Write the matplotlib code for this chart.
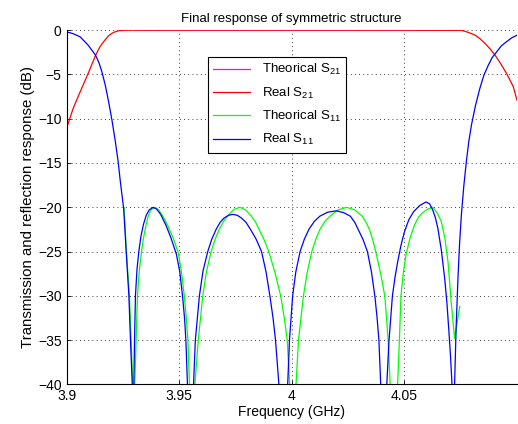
import matplotlib
matplotlib.use("Agg")
import matplotlib.pyplot as plt

plt.rcParams["font.family"] = ["Liberation Sans", "DejaVu Sans"]
plt.rcParams["mathtext.default"] = "regular"

# Real S21 (dB)
f_s21 = [3.9000, 3.9030, 3.9060, 3.9096, 3.9128, 3.9148, 3.9165, 3.9188,
         3.9209, 3.9230, 3.9254, 3.9306, 3.9500, 4.0000, 4.0500, 4.0753,
         4.0783, 4.0813, 4.0835, 4.0858, 4.0880, 4.0902, 4.0928, 4.0954,
         4.0984, 4.1000]
real_s21 = [-11.1, -8.8, -7.0, -4.9, -2.9, -1.9, -1.3, -0.6,
            -0.26, -0.08, -0.02, 0.0, 0.0, 0.0, 0.0, -0.02,
            -0.25, -0.56, -0.95, -1.5, -2.1, -2.8, -3.8, -4.9,
            -6.4, -7.9]

# Theoretical S21, hidden under the real one
f_s21_th = [3.9306, 3.9500, 4.0000, 4.0500, 4.0753]
th_s21 = [0.0, 0.0, 0.0, 0.0, -0.02]

# Real S11 (dB)
f_s11 = [3.9000, 3.9029, 3.9060, 3.9096, 3.9128, 3.9143, 3.9157, 3.9172,
         3.9187, 3.9202, 3.9217, 3.9229, 3.9239, 3.9254, 3.9265, 3.9277,
         3.9284, 3.9292, 3.9295,
         3.9299, 3.9302, 3.9306, 3.9313, 3.9321, 3.9331, 3.9342, 3.9354,
         3.9367, 3.9384, 3.9400, 3.9418, 3.9441, 3.9463, 3.9488, 3.9503,
         3.9515, 3.9524, 3.9530, 3.9537, 3.9548,
         3.9564, 3.9572, 3.9590, 3.9606, 3.9627, 3.9645, 3.9664, 3.9682,
         3.9700, 3.9720, 3.9739, 3.9758, 3.9776, 3.9797, 3.9817, 3.9842,
         3.9866, 3.9886, 3.9903, 3.9917, 3.9928, 3.9943, 3.9962,
         3.9982, 3.9990, 4.0004, 4.0018, 4.0037, 4.0056, 4.0076, 4.0100,
         4.0125, 4.0160, 4.0198, 4.0230, 4.0260, 4.0280, 4.0295, 4.0316,
         4.0336, 4.0354, 4.0369, 4.0379, 4.0387, 4.0395, 4.0407,
         4.0422, 4.0432, 4.0447, 4.0458, 4.0470, 4.0485, 4.0500, 4.0520,
         4.0541, 4.0568, 4.0596, 4.0612, 4.0626, 4.0638, 4.0649, 4.0664,
         4.0679, 4.0689, 4.0697, 4.0705, 4.0711, 4.0718,
         4.0723, 4.0730, 4.0738, 4.0745, 4.0753, 4.0764, 4.0775, 4.0786,
         4.0798, 4.0816, 4.0835, 4.0853, 4.0872, 4.0890, 4.0910, 4.0930,
         4.0954, 4.0978, 4.1000]
real_s11 = [-0.19, -0.4, -0.75, -1.7, -2.8, -3.6, -4.7, -6.2,
            -8.1, -10.2, -12.6, -14.8, -17.1, -20.2, -25.0, -30.0,
            -35.0, -40.0, -60.0,
            -40.0, -35.0, -30.0, -27.0, -25.0, -23.2, -21.9, -20.9,
            -20.3, -20.0, -20.2, -20.8, -22.0, -23.4, -25.3, -27.3,
            -30.0, -32.5, -35.0, -40.0, -60.0,
            -40.0, -35.0, -30.0, -27.2, -25.0, -23.6, -22.5, -21.7,
            -21.2, -20.9, -20.8, -20.9, -21.2, -21.7, -22.5, -23.6,
            -25.0, -27.3, -30.0, -32.5, -35.0, -40.0, -60.0,
            -40.0, -35.0, -30.0, -27.3, -25.0, -23.6, -22.5, -21.6,
            -21.0, -20.55, -20.4, -20.6, -21.0, -21.7, -22.5, -23.6,
            -25.0, -27.3, -30.0, -32.5, -35.0, -40.0, -60.0,
            -40.0, -35.0, -30.0, -28.0, -26.2, -24.3, -22.8, -21.4,
            -20.5, -19.8, -19.4, -19.6, -20.3, -21.2, -22.4, -24.8,
            -28.0, -30.8, -33.7, -36.8, -39.7, -60.0,
            -40.0, -33.5, -28.0, -24.2, -20.9, -17.6, -14.9, -12.6,
            -10.7, -8.5, -6.6, -5.1, -4.0, -3.1, -2.45, -1.8,
            -1.3, -0.85, -0.58]

# Theoretical S11 (dB)
f_s11_th = [3.9255, 3.9266, 3.9279, 3.9287, 3.9294, 3.9299,
            3.9303, 3.9309, 3.9315, 3.9323, 3.9333, 3.9343, 3.9353, 3.9363,
            3.9374, 3.9393, 3.9410, 3.9428, 3.9450, 3.9474, 3.9497, 3.9511,
            3.9523, 3.9532, 3.9539, 3.9546, 3.9557,
            3.9570, 3.9585, 3.9605, 3.9622, 3.9642, 3.9660, 3.9678, 3.9697,
            3.9718, 3.9743, 3.9769, 3.9795, 3.9821, 3.9840, 3.9857, 3.9878,
            3.9898, 3.9926, 3.9951, 3.9967, 3.9980, 3.9991, 4.0004,
            4.0019, 4.0030, 4.0052, 4.0069, 4.0089, 4.0107, 4.0125, 4.0147,
            4.0170, 4.0205, 4.0243, 4.0280, 4.0313, 4.0330, 4.0345, 4.0360,
            4.0373, 4.0395, 4.0413, 4.0421, 4.0428, 4.0437, 4.0452,
            4.0470, 4.0478, 4.0485, 4.0495, 4.0507, 4.0525, 4.0545, 4.0563,
            4.0582, 4.0604, 4.0626, 4.0645, 4.0664, 4.0680, 4.0694, 4.0708,
            4.0723, 4.0746]
th_s11 = [-20.0, -25.0, -30.0, -35.0, -40.0, -60.0,
          -40.0, -35.0, -30.0, -27.2, -25.0, -23.3, -22.0, -21.0,
          -20.3, -20.0, -20.3, -21.0, -22.1, -23.5, -25.2, -27.4,
          -30.0, -32.5, -35.0, -40.0, -60.0,
          -40.0, -35.0, -30.0, -27.2, -25.0, -23.6, -22.5, -21.6,
          -20.9, -20.25, -20.0, -20.3, -21.0, -21.7, -22.6, -23.7,
          -25.0, -27.4, -30.0, -32.5, -35.0, -40.0, -60.0,
          -40.0, -35.0, -30.0, -27.3, -25.0, -23.6, -22.5, -21.6,
          -21.0, -20.3, -20.0, -20.3, -21.0, -21.7, -22.5, -23.7,
          -25.0, -27.5, -30.0, -32.5, -35.0, -40.0, -60.0,
          -40.0, -35.0, -30.0, -27.5, -25.4, -23.5, -22.0, -21.1,
          -20.6, -20.2, -20.0, -20.6, -21.6, -23.5, -26.2, -30.7,
          -34.8, -31.2]

fig = plt.figure(figsize=(5.18, 4.24), dpi=100)
ax = fig.add_axes([0.1284, 0.0932, 0.8696, 0.8358])

lw = 0.9
ax.plot(f_s21_th, th_s21, color="#ff00ff", lw=lw, label="Theorical S$_{21}$")
ax.plot(f_s21, real_s21, color="#ff0000", lw=lw, label="Real S$_{21}$")
ax.plot(f_s11_th, th_s11, color="#00ff00", lw=lw, label="Theorical S$_{11}$")
ax.plot(f_s11, real_s11, color="#0000ff", lw=lw, label="Real S$_{11}$")

ax.set_xlim(3.9, 4.1)
ax.set_ylim(-40, 0)
ax.set_xticks([3.9, 3.95, 4.0, 4.05])
ax.set_xticklabels(["3.9", "3.95", "4", "4.05"])
ax.set_yticks(range(-40, 1, 5))
ax.grid(True, color="black", linestyle=(0, (1, 4)), linewidth=0.6)
ax.spines["top"].set_visible(False)
ax.spines["right"].set_visible(False)
ax.tick_params(direction="in", length=3, labelsize=10, width=0.6)

ax.set_title("Final response of symmetric structure", fontsize=9.5, pad=6)
ax.set_xlabel("Frequency (GHz)", fontsize=10, labelpad=1)
ax.set_ylabel("Transmission and reflection response (dB)", fontsize=10.8, labelpad=2)

leg = ax.legend(loc="upper left", bbox_to_anchor=(0.314, 0.924), fontsize=9.5,
                fancybox=False, framealpha=1, edgecolor="black",
                handlelength=2.8, handletextpad=0.9, borderaxespad=0,
                labelspacing=0.62)
leg.get_frame().set_linewidth(0.8)

fig.savefig("out.png", dpi=100)
